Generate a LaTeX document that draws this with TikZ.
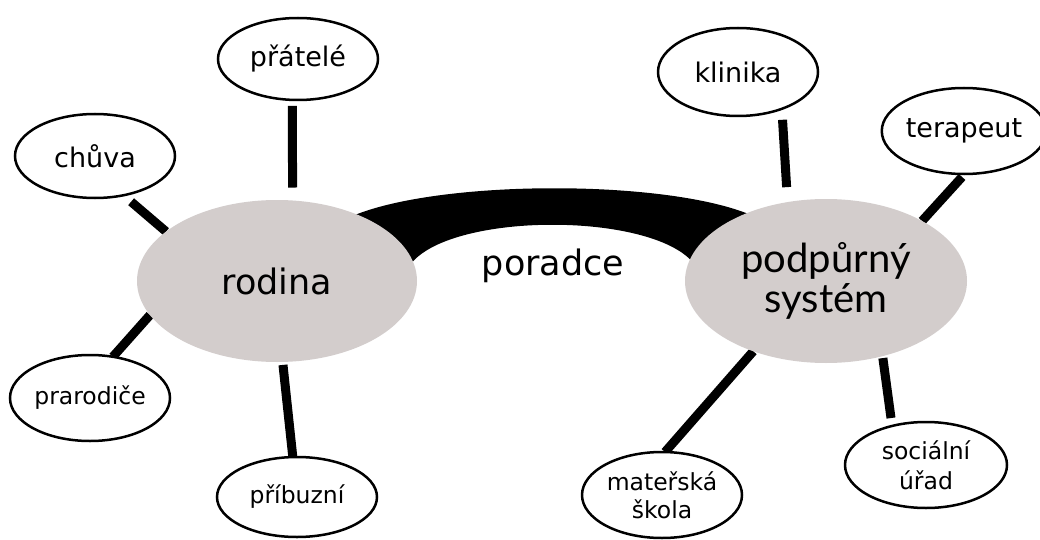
\documentclass[tikz,border=0pt]{standalone}
\usepackage{fontspec}
\setmainfont{DejaVu Sans}
\newfontfamily\latofont{Lato}
\usetikzlibrary{shapes.geometric,calc}
\pgfdeclarelayer{background}
\pgfsetlayers{background,main}
\definecolor{hubgray}{HTML}{D3CDCC}
\tikzset{
  hub/.style={ellipse, fill=hubgray, draw=none, inner sep=0pt, outer sep=0pt},
  leaf/.style={ellipse, draw=black, line width=2.5pt, fill=white, inner sep=0pt, outer sep=0pt,
    minimum width=160pt, minimum height=84pt, font=\fontsize{27}{32}\selectfont},
  smallleaf/.style={leaf, font=\fontsize{23.5}{29}\selectfont, align=center},
  spoke/.style={line width=9pt, draw=black},
  band/.style={fill=black, draw=none}
}
\begin{document}
\begin{tikzpicture}[x=1pt, y=-1pt]
\useasboundingbox (0,0) rectangle (1040,540);

% hubs
\node[hub, minimum width=280pt, minimum height=162pt, font=\fontsize{35}{42}\selectfont] (rod) at (277,281) {rodina};
\node[hub, minimum width=282pt, minimum height=164pt, font=\latofont\fontsize{40}{40}\selectfont, align=center] (sup) at (826,281) {podpůrný\\systém};
\node[inner sep=0pt, font=\fontsize{35}{42}\selectfont] (por) at (553,266) {poradce};

% leaves
\node[leaf, minimum height=82pt] (pra) at (298,59) {přátelé};
\node[leaf] (chu) at (95,156) {chůva};
\node[leaf, minimum height=88pt] (kli) at (738,72) {klinika};
\node[leaf, minimum width=150pt, minimum height=86pt] (ter) at (964,131) {terapeut};
\node[smallleaf, minimum height=86pt] (prd) at (90,398) {prarodiče};
\node[smallleaf, minimum height=80pt] (pri) at (297,497) {příbuzní};
\node[smallleaf, minimum height=86pt, font=\fontsize{23.5}{28}\selectfont] (mat) at (662,495) {mateřská\\škola};
\node[smallleaf, minimum width=162pt, minimum height=86pt, font=\fontsize{23.5}{30}\selectfont] (soc) at (926,465) {sociální\\úřad};

\begin{pgfonlayer}{background}
  % thick band between the hubs
  \path[band]
    ($(rod)+(63,-59)$) .. controls ($(rod)+(143,-104)$) and ($(sup)+(-136,-104)$) .. ($(sup)+(-61,-59)$)
    -- ($(sup)+(-126,-6)$) .. controls ($(sup)+(-146,-73)$) and ($(rod)+(148,-73)$) .. ($(rod)+(128,-6)$)
    -- cycle;
  % spokes
  \draw[spoke, shorten <=6pt, shorten >=13pt] (pra.-98) -- (rod.79);
  \draw[spoke, shorten <=10pt] (chu.-54) -- (rod.156);
  \draw[spoke] (prd.61) -- (rod.195);
  \draw[spoke, shorten >=3pt] (pri.96) -- (rod.274);
  \draw[spoke, shorten <=11pt, shorten >=15pt] (kli.-40) -- (sup.116);
  \draw[spoke, shorten <=4pt] (ter.-89) -- (sup.32);
  \draw[spoke] (mat.86) -- (sup.224);
  \draw[spoke, shorten <=8pt, shorten >=2pt] (soc.131) -- (sup.-53);
\end{pgfonlayer}
\end{tikzpicture}
\end{document}
